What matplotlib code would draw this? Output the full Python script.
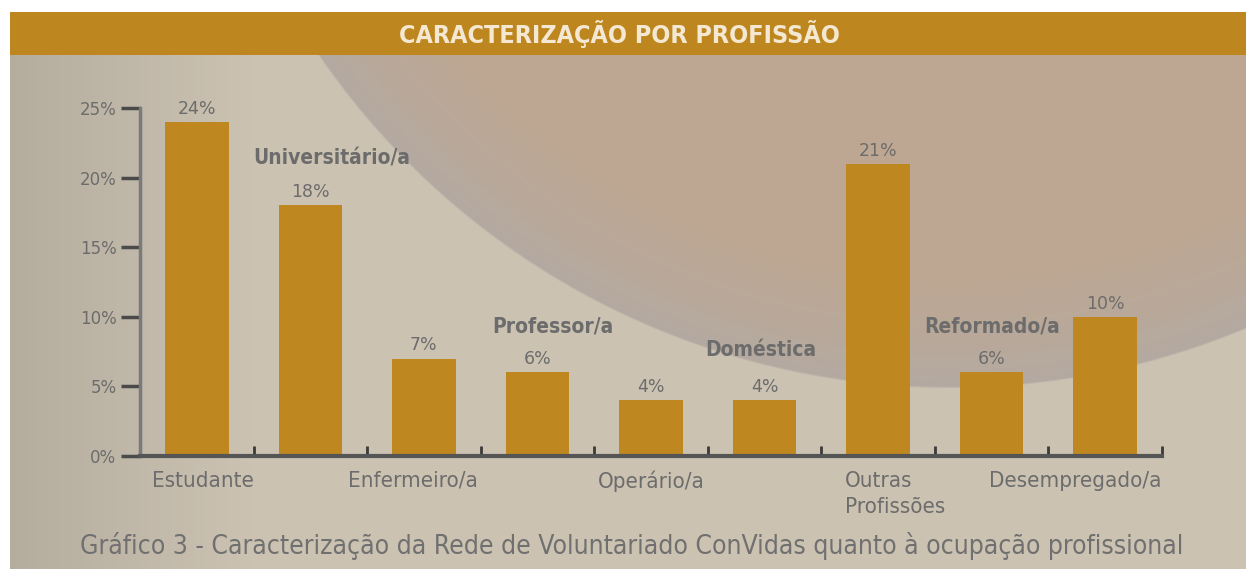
import numpy as np
import matplotlib.pyplot as plt

# --- dados ---
categorias = ["Estudante", "Universitário/a", "Enfermeiro/a", "Professor/a", "Operário/a",
              "Doméstica", "Outras\nProfissões", "Reformado/a", "Desempregado/a"]
valores = [24, 18, 7, 6, 4, 4, 21, 6, 10]
rotulos = ["24%", "18%", "7%", "6%", "4%", "4%", "21%", "6%", "10%"]
acima = [False, True, False, True, False, True, False, True, False]
y_ticks = [0, 5, 10, 15, 20, 25]
y_labels = ["0%", "5%", "10%", "15%", "20%", "25%"]

FONTE = ["DejaVu Sans"]
ESTREITO = "condensed"
COR_BARRA = "#BF871F"
COR_TEXTO = "#6C6C6C"

W, H = 1246, 569
fig = plt.figure(figsize=(W / 100, H / 100), dpi=100)

# --- fundo (bege com o circulo grande) ---
yy, xx = np.mgrid[0:H, 0:W].astype(float)
img = np.ones((H, W, 3)) * np.array([203, 194, 178]) / 255
t = np.clip((xx - 10) / 240, 0, 1)[..., None]
img = img * (0.89 + 0.11 * t)

cx, cy, r = 950, -379, 767
d = np.sqrt((xx - cx) ** 2 + (yy - cy) ** 2)
s = np.clip((d / r - 0.82) / 0.18, 0, 1)[..., None] ** 1.5
rosa = np.array([190, 167, 146]) / 255
cinza = np.array([180, 170, 162]) / 255
cor_circ = rosa * (1 - s) + cinza * s
alfa = np.clip((r - d) / 2, 0, 1)[..., None]
img = img * (1 - alfa) + cor_circ * alfa

img[12:55, 10:] = np.array([190, 134, 30]) / 255
img[:12, :] = 1
img[:, :10] = 1

ax_bg = fig.add_axes([0, 0, 1, 1])
ax_bg.imshow(img, aspect="auto", interpolation="bilinear")
ax_bg.axis("off")

fig.text(0.497, 1 - 34 / H, "CARACTERIZAÇÃO POR PROFISSÃO", ha="center", va="center",
         color="#F4E8D2", fontsize=18, fontweight="bold", family=FONTE, fontstretch=ESTREITO)

# --- grafico ---
ax = fig.add_axes([140 / W, 1 - 456 / H, (1162 - 140) / W, (456 - 108) / H])
ax.patch.set_alpha(0)
x = np.arange(len(categorias))
ax.bar(x, valores, width=0.56, color=COR_BARRA, zorder=2)

ax.set_xlim(-0.5, len(categorias) - 0.5)
ax.set_ylim(0, 25)
ax.set_yticks(y_ticks)
ax.set_yticklabels(y_labels, family=FONTE, fontsize=12, color=COR_TEXTO)
ax.tick_params(axis="y", length=14, width=2.5, color="#4A4A4A", pad=3)
ax.set_xticks([])
ax.set_xticks(np.arange(len(categorias)) + 0.5, minor=True)
ax.tick_params(axis="x", which="minor", direction="in", length=7, width=2, color="#3A3A3A")

for lado in ["top", "right"]:
    ax.spines[lado].set_visible(False)
ax.spines["left"].set_color("#7A7A7A")
ax.spines["left"].set_linewidth(2.5)
ax.spines["bottom"].set_color("#555555")
ax.spines["bottom"].set_linewidth(3)

for i, v in enumerate(valores):
    ax.text(x[i], v + 0.3, rotulos[i], ha="center", va="bottom", fontsize=12.5,
            color=COR_TEXTO, family=FONTE, clip_on=False)

# posicoes dos nomes das categorias
desloc = [0.05, 0.19, -0.1, 0.14, 0.0, -0.03, -0.29, 0.0, -0.26]
y_acima = {1: 21.4, 3: 9.3, 5: 7.6, 7: 9.3}
for i, nome in enumerate(categorias):
    if acima[i]:
        ax.text(x[i] + desloc[i], y_acima[i], nome, ha="center", va="center", fontsize=15,
                fontweight="bold", color=COR_TEXTO, family=FONTE, fontstretch=ESTREITO,
                clip_on=False)
    elif "\n" in nome:
        ax.text(x[i] + desloc[i], -1.05, nome, ha="left", va="top", fontsize=16,
                color=COR_TEXTO, family=FONTE, fontstretch=ESTREITO, linespacing=1.4,
                clip_on=False)
    else:
        ax.text(x[i] + desloc[i], -1.05, nome, ha="center", va="top", fontsize=16,
                color=COR_TEXTO, family=FONTE, fontstretch=ESTREITO, clip_on=False)

fig.text(632 / W, 1 - 546 / H,
         "Gráfico 3 - Caracterização da Rede de Voluntariado ConVidas quanto à ocupação profissional",
         ha="center", va="center", fontsize=19, color="#707070", family=FONTE,
         fontstretch=ESTREITO)

fig.savefig("out.png", dpi=100)
